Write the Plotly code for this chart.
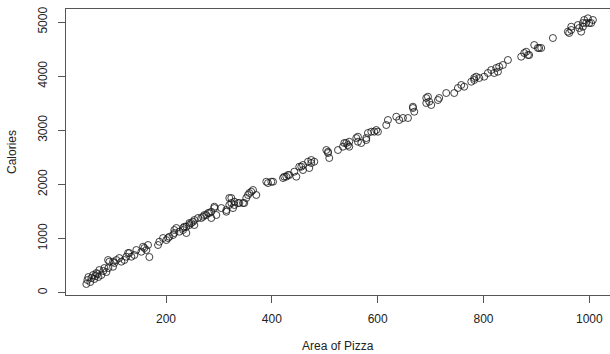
import plotly.graph_objects as go

area = [
    49.5, 51.4, 53.3, 57.0, 58.9, 62.1, 64.6, 66.5, 68.4, 70.3, 72.2, 74.0, 77.8, 81.6, 83.5, 87.3,
    90.5, 91.0, 92.9, 99.9, 99.9, 102.4, 106.2, 111.8, 115.6, 121.3, 125.1, 128.3, 130.7, 134.5,
    140.2, 143.9, 153.4, 156.6, 159.1, 162.8, 166.0, 168.5,
    184.9, 187.4, 194.4, 200.6, 203.8, 206.3, 213.3, 215.7, 215.7, 219.5, 225.2, 232.2, 232.2, 234.6,
    238.4, 238.4, 244.1, 244.1, 247.8, 251.0, 253.5, 253.5, 260.5, 266.7, 269.9, 272.4, 276.2, 279.4,
    281.8, 285.6, 285.6, 291.3, 291.3, 295.1, 304.5, 314.0, 314.0, 319.6, 319.6, 323.4, 323.4, 326.6,
    329.1, 329.1, 336.1, 338.5, 345.5, 347.9, 351.7, 354.9, 357.4, 361.2, 364.4, 370.6, 389.5, 392.7,
    399.0, 402.2, 421.1, 423.5, 427.3, 430.5, 433.0,
    442.4, 446.2, 451.8, 455.6, 458.8, 458.8, 468.3, 470.7, 474.5, 474.5, 480.2, 502.9, 506.1, 506.1,
    508.5, 525.0, 534.4, 536.9, 540.6, 543.8, 546.3, 546.3, 559.5, 562.7, 562.7, 569.0, 578.4, 578.4,
    581.6, 587.9, 593.5, 597.3, 600.5, 616.2, 619.4, 635.1, 640.7, 647.7, 657.2, 666.6, 666.6, 669.1,
    691.8, 691.8, 695.0, 697.4, 701.2, 713.9, 716.3, 729.5, 744.6, 751.6, 757.9, 763.5, 776.8, 782.4,
    782.4, 786.2, 791.9, 801.3, 808.3, 814.5, 820.2, 824.0, 827.2, 829.6, 836.6, 846.1, 871.2, 876.9,
    880.7, 883.9, 886.3, 895.8, 902.7, 905.2, 909.0, 931.1, 959.4, 961.9, 965.7, 965.7, 978.3, 980.8,
    984.5, 987.8, 987.8, 990.2, 997.2, 994.0, 999.7, 1003.4, 1006.7,
]
calories = [
    161, 235, 290, 198, 272, 327, 253, 308, 364, 345, 290, 419, 327, 401, 456, 382,
    604, 456, 573, 573, 480, 549, 604, 641, 573, 604, 665, 733, 733, 665,
    696, 789, 757, 850, 826, 789, 881, 659,
    881, 942, 1010, 973, 1010, 1034, 1066, 1103, 1158, 1195, 1127, 1158, 1195, 1219,
    1103, 1219, 1250, 1287, 1287, 1311, 1343, 1250, 1380, 1380, 1404, 1435, 1435, 1472,
    1472, 1496, 1380, 1564, 1588, 1435, 1564, 1496, 1527, 1620, 1749, 1749, 1657, 1564,
    1681, 1620, 1657, 1657, 1657, 1657, 1749, 1805, 1841, 1865, 1897, 1805, 2050, 2026,
    2050, 2050, 2119, 2143, 2143, 2174, 2174,
    2235, 2143, 2327, 2327, 2266, 2359, 2420, 2303, 2451, 2396, 2420, 2636, 2580, 2604,
    2488, 2636, 2697, 2765, 2765, 2728, 2697, 2789, 2857, 2881, 2789, 2765, 2820, 2857,
    2950, 2974, 2974, 3005, 2974, 3097, 3190, 3251, 3190, 3227, 3227, 3435, 3411, 3343,
    3504, 3596, 3620, 3528, 3467, 3559, 3596, 3688, 3688, 3781, 3836, 3805, 3897, 3929,
    3966, 3990, 3966, 3990, 4058, 4113, 4058, 4150, 4082, 4174, 4206, 4298, 4359, 4427,
    4451, 4390, 4390, 4575, 4520, 4520, 4520, 4704, 4821, 4797, 4913, 4852, 4944, 4889,
    4821, 4981, 4913, 5037, 5068, 4981, 4981, 4981, 5037,
]

x_ticks = [200, 400, 600, 800, 1000]
y_ticks = [0, 1000, 2000, 3000, 4000, 5000]

font = dict(family="Liberation Sans, Arial, sans-serif", size=12, color="#222")

fig = go.Figure(
    go.Scatter(
        x=area, y=calories, mode="markers",
        marker=dict(symbol="circle-open", size=7, color="rgba(20,20,20,0.8)",
                    line=dict(width=1, color="rgba(20,20,20,0.8)")),
        hoverinfo="skip",
    )
)

fig.update_layout(
    width=610, height=354,
    margin=dict(l=66, r=0, t=9, b=59),
    paper_bgcolor="white", plot_bgcolor="white",
    showlegend=False, font=font,
    xaxis=dict(
        range=[11, 1039], tickvals=x_ticks, ticktext=[str(v) for v in x_ticks],
        showgrid=False, zeroline=False, showline=True, mirror=True,
        linecolor="#555", linewidth=1, ticks="outside", ticklen=7, tickcolor="#555",
        ticklabelstandoff=6,
    ),
    yaxis=dict(
        range=[-42, 5240], tickvals=y_ticks, ticktext=[str(v) for v in y_ticks],
        showgrid=False, zeroline=False, showline=True, mirror=False,
        linecolor="#555", linewidth=1, ticks="outside", ticklen=7, tickcolor="#555",
        tickangle=-90, ticklabelstandoff=6,
    ),
    annotations=[
        dict(text="Area of Pizza", xref="paper", yref="paper", x=0.5, y=0,
             xanchor="center", yanchor="middle", yshift=-51, showarrow=False, font=font),
        dict(text="Calories", xref="paper", yref="paper", x=0, y=0.5,
             xanchor="center", yanchor="middle", xshift=-54, textangle=-90,
             showarrow=False, font=font),
    ],
)

fig.write_html(
    "out.html",
    config={"displayModeBar": False},
    post_script="document.body.style.margin='0';document.body.style.overflow='hidden';",
)
